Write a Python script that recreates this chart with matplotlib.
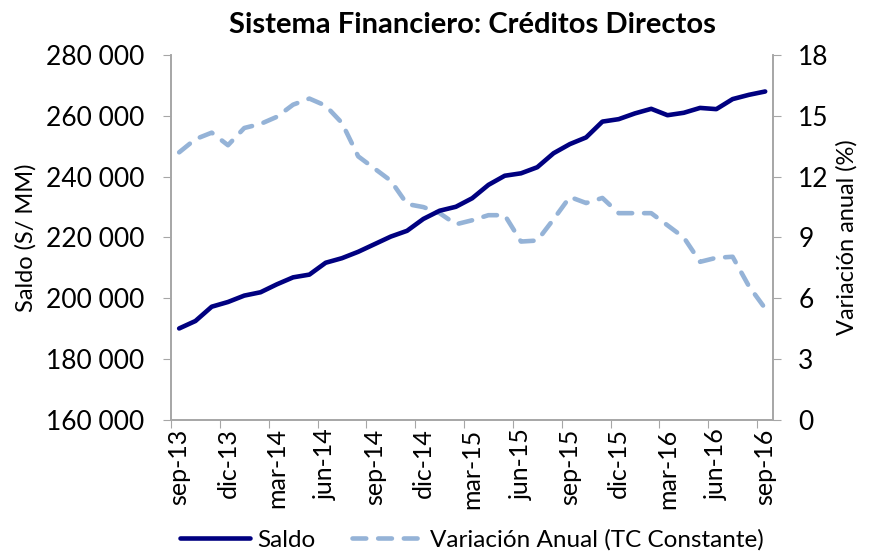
import matplotlib.pyplot as plt
import numpy as np

plt.rcParams['font.family'] = ['Lato', 'DejaVu Sans']

# monthly data, sep-13 .. sep-16
months = ['sep-13', 'oct-13', 'nov-13', 'dic-13', 'ene-14', 'feb-14', 'mar-14', 'abr-14', 'may-14',
          'jun-14', 'jul-14', 'ago-14', 'sep-14', 'oct-14', 'nov-14', 'dic-14', 'ene-15', 'feb-15',
          'mar-15', 'abr-15', 'may-15', 'jun-15', 'jul-15', 'ago-15', 'sep-15', 'oct-15', 'nov-15',
          'dic-15', 'ene-16', 'feb-16', 'mar-16', 'abr-16', 'may-16', 'jun-16', 'jul-16', 'ago-16',
          'sep-16']

saldo = [190100, 192550, 197250, 198800, 200900, 202000, 204600, 206900, 207800,
         211700, 213200, 215300, 217800, 220300, 222200, 226100, 228800, 230100,
         232900, 237300, 240300, 241100, 243100, 247700, 250700, 252900, 258100,
         258900, 260800, 262300, 260200, 261000, 262600, 262200, 265500, 266900,
         268000]

variacion = [13.2, 13.85, 14.17, 13.55, 14.4, 14.6, 14.95, 15.55, 15.85,
             15.5, 14.65, 13.0, 12.4, 11.8, 10.65, 10.5, 10.2, 9.65,
             9.85, 10.1, 10.1, 8.8, 8.85, 9.9, 11.0, 10.7, 10.95,
             10.2, 10.2, 10.2, 9.6, 9.0, 7.8, 8.0, 8.05, 6.6,
             5.5]

navy = '#000080'
light = '#95B3D7'
grey = '#A6A6A6'

fig = plt.figure(figsize=(8.69, 5.52), dpi=100)
ax = fig.add_axes([0.1968, 0.2391, 0.6931, 0.6613])
ax2 = ax.twinx()

# points sit in the middle of each month slot
x = np.arange(len(months)) + 0.5

ax.plot(x, saldo, color=navy, lw=3.3, solid_capstyle='round', solid_joinstyle='round',
        label='Saldo', zorder=3)
ax2.plot(x, variacion, color=light, lw=3.3, dashes=(3.0, 2.6), dash_capstyle='round',
         label='Variación Anual (TC Constante)')
ax.set_zorder(ax2.get_zorder() + 1)
ax.patch.set_visible(False)

ax.set_xlim(0, len(months))
ax.set_ylim(160000, 280000)
ax.set_yticks(np.arange(160000, 280001, 20000))
ax.set_yticklabels(['{:,}'.format(v).replace(',', ' ') for v in range(160000, 280001, 20000)])
ax2.set_ylim(0, 18)
ax2.set_yticks(np.arange(0, 19, 3))

# tick marks on the quarter boundaries, labels centred in the slot
ax.set_xticks(np.arange(0, len(months) + 1, 3))
ax.set_xticklabels([])
ax.set_xticks(x[::3], minor=True)
ax.set_xticklabels(months[::3], minor=True, rotation=90, fontsize=18)
ax.tick_params(axis='x', which='minor', length=0, pad=6)
ax.tick_params(axis='x', which='major', length=6, color=grey)

ax.tick_params(axis='y', labelsize=19, length=6, color=grey, pad=13)
ax2.tick_params(axis='y', labelsize=19, length=6, color=grey, pad=12)

for a in (ax, ax2):
    a.spines['top'].set_visible(False)
    for s in ('left', 'right', 'bottom'):
        a.spines[s].set_color(grey)
        a.spines[s].set_linewidth(1.2)

ax.set_ylabel('Saldo (S/ MM)', fontsize=17, labelpad=7)
ax2.set_ylabel('Variación anual (%)', fontsize=17, labelpad=5)
ax.set_title('Sistema Financiero: Créditos Directos', fontsize=21, fontweight='bold', pad=16)

h1, l1 = ax.get_legend_handles_labels()
h2, l2 = ax2.get_legend_handles_labels()
fig.legend(h1 + h2, l1 + l2, loc='center', bbox_to_anchor=(0.543, 0.022), ncol=2,
           frameon=False, fontsize=17.5, handlelength=2.9, columnspacing=1.5,
           handletextpad=0.3, borderpad=0.1)

fig.savefig('out.png', dpi=100)
